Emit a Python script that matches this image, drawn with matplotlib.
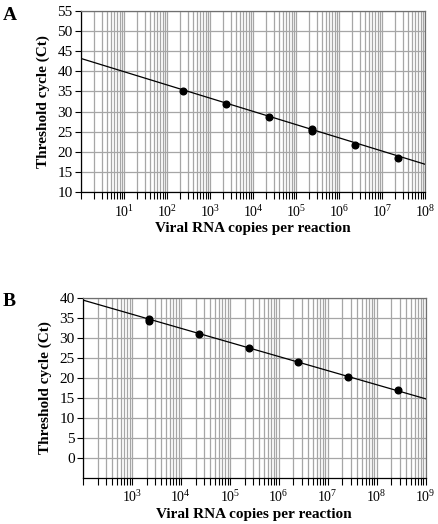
import matplotlib
matplotlib.use("Agg")
import matplotlib.pyplot as plt
from matplotlib.ticker import LogLocator, FixedLocator, NullFormatter

plt.rcParams['font.family'] = ['Liberation Serif', 'DejaVu Serif']
plt.rcParams['mathtext.fontset'] = 'custom'
plt.rcParams['mathtext.rm'] = 'Liberation Serif'

# Panel A data
a_copies = [2.4e2, 2.4e3, 2.4e4, 2.4e5, 2.4e5, 2.3e6, 2.4e7]
a_ct = [35.2, 31.9, 28.6, 25.7, 25.2, 21.8, 18.4]
a_fit_x = [1, 1e8]
a_fit_y = [43.2, 16.9]
a_yticks = [10, 15, 20, 25, 30, 35, 40, 45, 50, 55]
a_xlabels_exp = [1, 2, 3, 4, 5, 6, 7, 8]

# Panel B data
b_copies = [2.2e3, 2.2e3, 2.4e4, 2.5e5, 2.5e6, 2.6e7, 2.8e8]
b_ct = [34.6, 34.2, 30.9, 27.3, 23.8, 20.1, 17.0]
b_fit_x = [1e2, 1e9]
b_fit_y = [39.4, 14.7]
b_yticks = [0, 5, 10, 15, 20, 25, 30, 35, 40]
b_xlabels_exp = [3, 4, 5, 6, 7, 8, 9]

W, H = 438, 524
fig = plt.figure(figsize=(W / 100, H / 100), dpi=100)

def make_panel(rect, copies, ct, fx, fy, yticks, ylim, xlim, exps, letter, letter_pos):
    ax = fig.add_axes(rect)
    ax.set_xscale('log')
    ax.set_xlim(*xlim)
    ax.set_ylim(*ylim)
    ax.xaxis.set_major_locator(FixedLocator([10.0 ** e for e in exps]))
    ax.set_xticklabels([r'$\mathregular{10^{%d}}$' % e for e in exps])
    ax.xaxis.set_minor_locator(LogLocator(base=10, subs=[1, 2, 3, 4, 5, 6, 7, 8, 9], numticks=50))
    ax.xaxis.set_minor_formatter(NullFormatter())
    ax.set_yticks(yticks)
    ax.grid(True, which='both', axis='x', color='#a6a6a6', linewidth=0.9)
    ax.grid(True, which='major', axis='y', color='#a6a6a6', linewidth=0.9)
    ax.set_axisbelow(True)
    ax.tick_params(axis='x', which='both', direction='out', length=5, width=0.8,
                   labelsize=10, pad=3.5, color='black')
    ax.tick_params(axis='y', direction='out', length=4, width=0.8, labelsize=11, pad=2)
    for s in ['top', 'right']:
        ax.spines[s].set_color('#707070')
        ax.spines[s].set_linewidth(0.9)
    for s in ['left', 'bottom']:
        ax.spines[s].set_color('black')
        ax.spines[s].set_linewidth(0.9)
    ax.plot(fx, fy, color='black', linewidth=0.9, zorder=3)
    ax.plot(copies, ct, 'o', color='black', markersize=4.8, zorder=4)
    ax.set_ylabel('Threshold cycle (Ct)', fontweight='bold', fontsize=11, labelpad=5.5)
    ax.set_xlabel('Viral RNA copies per reaction', fontweight='bold', fontsize=11, labelpad=2)
    fig.text(letter_pos[0] / W, 1 - letter_pos[1] / H, letter, fontsize=14,
             fontweight='bold', ha='left', va='center')
    return ax

make_panel([81 / W, 1 - 192 / H, 344 / W, 181 / H], a_copies, a_ct, a_fit_x, a_fit_y,
           a_yticks, (10, 55), (1, 1e8), a_xlabels_exp, 'A', (3, 16))
make_panel([83 / W, 1 - 477.5 / H, 342.5 / W, 179.8 / H], b_copies, b_ct, b_fit_x, b_fit_y,
           b_yticks, (-5, 40), (1e2, 1e9), b_xlabels_exp, 'B', (3, 302))

fig.savefig('out.png', dpi=100)
